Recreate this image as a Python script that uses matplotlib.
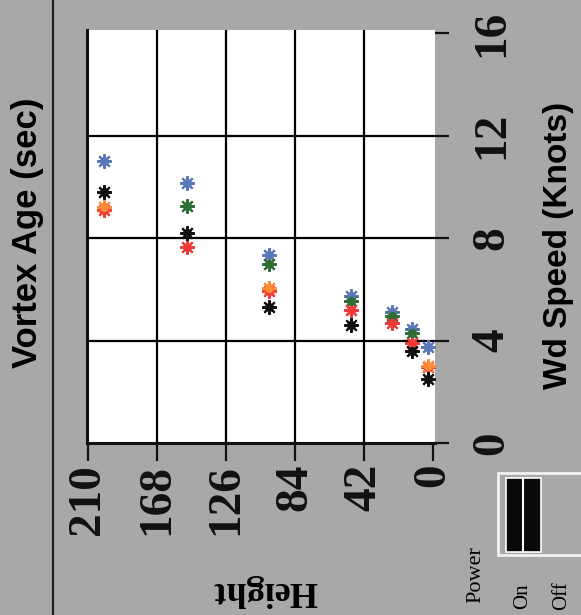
import matplotlib
matplotlib.use("Agg")
import matplotlib.pyplot as plt
from matplotlib.patches import Rectangle

# ---- data (Height, Wind speed) ----
height_ticks = [210, 168, 126, 84, 42, 0]
wind_ticks = [0, 4, 8, 12, 16]

blue_h = [200, 150, 100, 50, 25, 13, 3]
blue_w = [11.0, 10.15, 7.35, 5.75, 5.1, 4.45, 3.75]
green_h = [150, 100, 50, 25, 13]
green_w = [9.25, 7.0, 5.55, 4.95, 4.3]
black_h = [200, 150, 100, 50, 13, 3]
black_w = [9.8, 8.2, 5.3, 4.6, 3.6, 2.5]
red_h = [200, 150, 100, 50, 25, 13, 3]
red_w = [9.1, 7.65, 5.95, 5.2, 4.7, 3.9, 2.95]
orange_h = [200, 100, 3]
orange_w = [9.2, 6.05, 3.0]

W, H = 581, 615
fig = plt.figure(figsize=(W / 100, H / 100), dpi=100)
bg = "#a8a8a8"
fig.patch.set_facecolor(bg)

def px(x0, y0, x1, y1):
    return [x0 / W, 1 - y1 / H, (x1 - x0) / W, (y1 - y0) / H]

ax = fig.add_axes(px(87, 30, 435, 443))
ax.set_facecolor("white")
ax.set_xlim(210.6, -1.2)
ax.set_ylim(0, 16 * 413 / 410)

for h in height_ticks[1:-1]:
    ax.axvline(h, color="black", lw=1.6, zorder=1)
for w in wind_ticks[1:-1]:
    ax.axhline(w, color="black", lw=1.6, zorder=1)

def stars(hs, ws, color):
    ax.plot(hs, ws, ls="none", marker=(8, 2, 0), ms=10.5, mew=1.5, color=color,
            zorder=3)
    ax.plot(hs, ws, ls="none", marker="o", ms=5.5, color=color, zorder=4)

stars(blue_h, blue_w, "#5a78b8")
stars(green_h, green_w, "#2e6e34")
stars(red_h, red_w, "#f03a3a")
stars(orange_h, orange_w, "#ff8a3a")
stars(black_h, black_w, "#101010")

for s in ["top", "right"]:
    ax.spines[s].set_visible(False)
for s in ["left", "bottom"]:
    ax.spines[s].set_linewidth(2.2)
    ax.spines[s].set_color("#111111")

serif = ["Liberation Serif", "DejaVu Serif"]
ax.set_xticks(height_ticks)
ax.set_xticklabels([str(v) for v in height_ticks], rotation=90,
                   fontsize=34, fontweight="bold", family=serif)
ax.tick_params(axis="x", direction="out", length=13, width=1.6, pad=2,
               colors="#111111")
ax.yaxis.tick_right()
ax.set_yticks(wind_ticks)
ax.set_yticklabels([str(v) for v in wind_ticks], rotation=90,
                   fontsize=34, fontweight="bold", family=serif, va="center")
ax.tick_params(axis="y", direction="out", length=10, width=1.6, pad=16,
               colors="#111111")

sans = ["Liberation Sans", "DejaVu Sans"]
fig.text(28 / W, 1 - 233 / H, "Vortex Age (sec)", rotation=90, fontsize=25,
         fontweight="bold", family=sans, ha="center", va="center")
fig.text(558 / W, 1 - 245 / H, "Wd Speed (Knots)", rotation=90, fontsize=24,
         fontweight="bold", family=sans, ha="center", va="center")
fig.text(265 / W, 1 - 590 / H, "Height", rotation=180, fontsize=26,
         fontweight="bold", family=serif, ha="center", va="center")

# left frame line
fig.add_artist(plt.Line2D([53 / W, 53 / W], [0, 1], color="#222222", lw=1.6))

# legend box
fig.patches.append(Rectangle((498 / W, 1 - 555 / H), 90 / W, 82 / H,
                             transform=fig.transFigure, facecolor=bg,
                             edgecolor="#f0f0f0", lw=2))
fig.patches.append(Rectangle((506 / W, 1 - 552 / H), 35 / W, 74 / H,
                             transform=fig.transFigure, facecolor="#0a0a0a",
                             edgecolor="white", lw=1.2))
fig.add_artist(plt.Line2D([523 / W, 523 / W], [1 - 552 / H, 1 - 478 / H],
                          color="white", lw=1.5))
fig.text(476 / W, 1 - 575 / H, "Power", rotation=90, fontsize=16,
         family=serif, ha="center", va="center")
fig.text(523 / W, 1 - 596 / H, "On", rotation=90, fontsize=15,
         family=serif, ha="center", va="center")
fig.text(562 / W, 1 - 596 / H, "Off", rotation=90, fontsize=15,
         family=serif, ha="center", va="center")

fig.savefig("out.png", dpi=100, facecolor=bg)
